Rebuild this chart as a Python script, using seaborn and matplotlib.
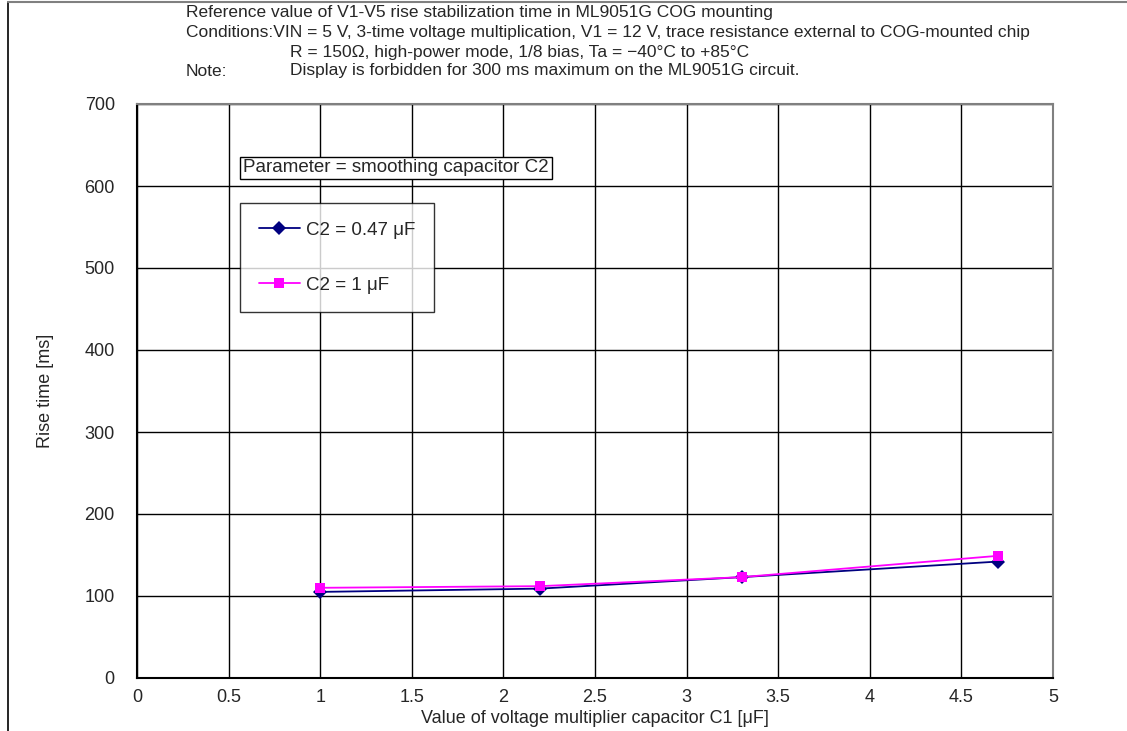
import matplotlib
matplotlib.use("Agg")
import matplotlib.pyplot as plt
from matplotlib.lines import Line2D
import pandas as pd
import seaborn as sns

# Datos
capacitor_c1 = [1.0, 2.2, 3.3, 4.7]
rise_c2_047 = [105, 109, 123, 142]
rise_c2_1 = [110, 112, 123, 149]
series_labels = ["C2 = 0.47 \u03bcF", "C2 = 1 \u03bcF"]
x_ticks = [0, 0.5, 1, 1.5, 2, 2.5, 3, 3.5, 4, 4.5, 5]
y_ticks = [0, 100, 200, 300, 400, 500, 600, 700]

df = pd.DataFrame({
    "c1": capacitor_c1 * 2,
    "rise": rise_c2_047 + rise_c2_1,
    "serie": [series_labels[0]] * 4 + [series_labels[1]] * 4,
})

sns.set_style("white")
plt.rcParams['font.family'] = ['Liberation Sans', 'DejaVu Sans']

fig = plt.figure(figsize=(11.27, 7.31), dpi=100)
ax = fig.add_axes([137 / 1127, 1 - 678 / 731, (1053 - 137) / 1127, (678 - 104) / 731])

sns.lineplot(data=df, x="c1", y="rise", hue="serie", style="serie",
             palette=["#000080", "#FF00FF"], markers=["D", "s"], dashes=False,
             markersize=7, linewidth=1.3, markeredgewidth=0, ax=ax)

ax.set_xlim(0, 5)
ax.set_ylim(0, 700)
ax.set_xticks(x_ticks)
ax.set_xticklabels([f"{t:g}" for t in x_ticks])
ax.set_yticks(y_ticks)
ax.grid(True, color="black", linewidth=1)
ax.tick_params(axis="both", length=0, labelsize=13)
ax.tick_params(axis="y", pad=16)
ax.tick_params(axis="x", pad=8)
ax.set_xlabel("Value of voltage multiplier capacitor C1 [\u03bcF]", fontsize=13, labelpad=3)
ax.set_ylabel("Rise time [ms]", fontsize=13, labelpad=22)

for lado in ["left", "bottom"]:
    ax.spines[lado].set_color("black")
    ax.spines[lado].set_linewidth(1.5)
for lado in ["top", "right"]:
    ax.spines[lado].set_color("#808080")
    ax.spines[lado].set_linewidth(1.5)

# Leyenda
leg = ax.legend(loc="upper left", bbox_to_anchor=(103 / 916, 1 - 99 / 574),
                frameon=True, fancybox=False, fontsize=13.5, labelspacing=2.0,
                handlelength=2.2, borderpad=1.0,
                borderaxespad=0, handletextpad=0.3)
leg.get_frame().set_edgecolor("black")
leg.get_frame().set_linewidth(1)

ax.text(0.58, 622, "Parameter = smoothing capacitor C2", fontsize=13.5, va="center",
        bbox=dict(boxstyle="square,pad=0.15", fc="white", ec="black", lw=1))

# Titulo / condiciones
fs = 12.5
fig.text(186 / 1127, 1 - 13 / 731, "Reference value of V1-V5 rise stabilization time in ML9051G COG mounting",
         fontsize=fs, va="center")
fig.text(186 / 1127, 1 - 32 / 731, "Conditions:VIN = 5 V, 3-time voltage multiplication, V1 = 12 V, trace resistance external to COG-mounted chip",
         fontsize=fs, va="center")
fig.text(290 / 1127, 1 - 52 / 731, "R = 150\u03a9, high-power mode, 1/8 bias, Ta = \u221240\u00b0C to +85\u00b0C",
         fontsize=fs, va="center")
fig.text(186 / 1127, 1 - 71 / 731, "Note:", fontsize=fs, va="center")
fig.text(290 / 1127, 1 - 71 / 731, "Display is forbidden for 300 ms maximum on the ML9051G circuit.",
         fontsize=fs, va="center")

# Marco exterior
fig.add_artist(Line2D([8 / 1127, 8 / 1127], [0, 1 - 2 / 731], color="black", lw=1.2))
fig.add_artist(Line2D([8 / 1127, 1], [1 - 2 / 731, 1 - 2 / 731], color="#808080", lw=1.5))

plt.savefig("out.png", dpi=100)
plt.close()
